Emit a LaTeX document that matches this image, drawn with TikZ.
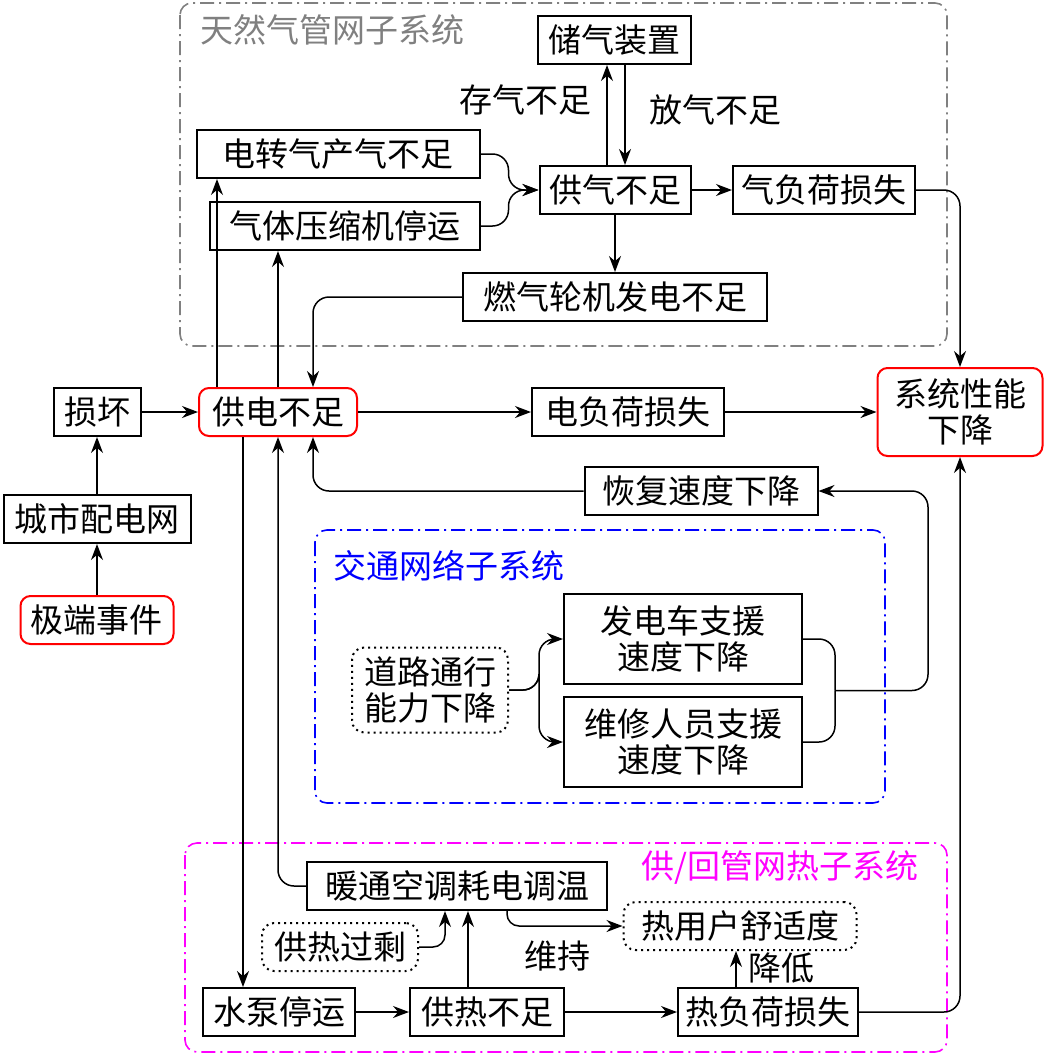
\documentclass[tikz,border=0pt]{standalone}
\usepackage{fontspec}
\newfontfamily\cjk{Noto Sans CJK SC}
\usepackage{tikz}
\usetikzlibrary{arrows.meta,calc}
\definecolor{heatmag}{RGB}{255,0,255}
\definecolor{trablue}{RGB}{0,0,255}
\definecolor{gasgray}{RGB}{128,128,128}

\begin{document}
\begin{tikzpicture}[
        x=0.5pt, y=-0.5pt,
        font=\cjk\fontsize{16.5}{18}\selectfont,
        box/.style={draw, line width=1pt, align=center, minimum height=24pt, inner sep=2pt},
        redbox/.style={box, draw=red, rounded corners=5pt},
        dotbox/.style={box, dotted, rounded corners=6pt},
        frame/.style={line width=0.8pt, rounded corners=6pt, dash pattern=on 7pt off 2.5pt on 1pt off 2.5pt},
        line/.style={-{Stealth[length=8pt,width=6pt]}, line width=0.75pt},
        link/.style={line width=0.75pt}
    ]
        \useasboundingbox (0,0) rectangle (1045,1056);

        % subsystem frames
        \draw[frame, gasgray] (180,3) rectangle (947,346);
        \draw[frame, trablue] (315,530) rectangle (885,803);
        \draw[frame, heatmag] (185,843) rectangle (947,1052);
        \node[gasgray, anchor=west] (gastitle) at (193,30) {天然气管网子系统};
        \node[trablue, anchor=west] (tratitle) at (326,566) {交通网络子系统};
        \node[heatmag, anchor=west] (heattitle) at (634,868) {供/回管网热子系统};

        % gas
        \node[box, minimum width=76.5pt] (store) at (614,40) {储气装置};
        \node[box, minimum width=141.5pt] (p2g) at (338,154) {电转气产气不足};
        \node[box, minimum width=135pt] (comp) at (345,226) {气体压缩机停运};
        \node[box, minimum width=75.5pt] (gs) at (615,190) {供气不足};
        \node[box, minimum width=91pt] (gl) at (824,190) {气负荷损失};
        \node[box, minimum width=152pt] (gt) at (615,297) {燃气轮机发电不足};

        % power
        \node[redbox, minimum width=79pt] (pse) at (278,412) {供电不足};
        \node[box, minimum width=43.5pt] (dmg) at (97,412) {损坏};
        \node[box, minimum width=93.5pt] (grid) at (97,519) {城市配电网};
        \node[redbox, minimum width=76.5pt] (ext) at (97,620) {极端事件};
        \node[box, minimum width=96pt] (el) at (628,412) {电负荷损失};
        \node[redbox, minimum width=82.5pt, minimum height=44pt] (sys) at (960,412) {系统性能\\下降};
        \node[box, minimum width=116.5pt] (recov) at (701,491) {恢复速度下降};

        % traffic
        \node[dotbox, minimum width=78pt, minimum height=42.5pt] (road) at (430,690) {道路通行\\能力下降};
        \node[box, minimum width=119pt, minimum height=45pt] (gen) at (683,639) {发电车支援\\速度下降};
        \node[box, minimum width=119pt, minimum height=45pt] (crew) at (683,742) {维修人员支援\\速度下降};

        % heat
        \node[box, minimum width=150pt] (hvac) at (457,886) {暖通空调耗电调温};
        \node[dotbox, minimum width=116.5pt] (comfort) at (740,926) {热用户舒适度};
        \node[dotbox, minimum width=78pt] (surplus) at (340,947) {供热过剩};
        \node[box, minimum width=76pt] (pump) at (279,1012) {水泵停运};
        \node[box, minimum width=77pt] (hs) at (487,1012) {供热不足};
        \node[box, minimum width=90pt] (hl) at (768,1012) {热负荷损失};

        % edge labels
        \node (lstore) at (525,100) {存气不足};
        \node (lrel) at (715,110) {放气不足};
        \node (lkeep) at (557,956) {维持};
        \node (llow) at (781,968) {降低};

        % helper points
        \coordinate (gj) at ($(gs.west)+(-30,0)$);
        \coordinate (up1) at ($(gs.north)+(-8,0)$);
        \coordinate (dn1) at ($(gs.north)+(10,0)$);
        \coordinate (pp2g) at ($(pse.north)+(-61,0)$);
        \coordinate (pgt) at ($(pse.north)+(35,0)$);
        \coordinate (prec) at ($(pse.south)+(35,0)$);
        \coordinate (ppump) at ($(pse.south)+(-35,0)$);
        \coordinate (rj) at ($(road.east)+(30,0)$);
        \coordinate (tj) at ($(gen.east)!0.5!(crew.east)+(32,0)$);
        \coordinate (hup) at ($(hs.north)+(-19,0)$);
        \coordinate (sup1) at ($(hvac.south)+(-12,0)$);
        \coordinate (hout) at ($(hvac.south)+(50,0)$);
        \coordinate (hlup) at ($(hl.north)+(-32,0)$);

        \draw[line, rounded corners=8pt] (p2g.east) -| (gj) -- (gs.west);
        \draw[line, rounded corners=8pt] (comp.east) -| (gj) -- (gs.west);
        \draw[line] (up1) -- (up1 |- store.south);
        \draw[line] (dn1 |- store.south) -- (dn1);
        \draw[line] (gs) -- (gl);
        \draw[line] (gs) -- (gt);
        \draw[line, rounded corners=8pt] (gl.east) -| (sys.north);
        \draw[line, rounded corners=8pt] (gt.west) -| (pgt);

        \draw[line] (ext) -- (grid);
        \draw[line] (grid) -- (dmg);
        \draw[line] (dmg) -- (pse);
        \draw[line] (pse) -- (el);
        \draw[line] (el) -- (sys);
        \draw[line] (pp2g) -- (pp2g |- p2g.south);
        \draw[line] (pse.north) -- (pse.north |- comp.south);
        \draw[line] (ppump) -- (ppump |- pump.north);
        \draw[line, rounded corners=8pt] (recov.west) -| (prec);

        \draw[line, rounded corners=8pt] (road.east) -| (rj) |- (gen.west);
        \draw[line, rounded corners=8pt] (road.east) -| (rj) |- (crew.west);
        \draw[link, rounded corners=8pt] (gen.east) -| (tj);
        \draw[link, rounded corners=8pt] (crew.east) -| (tj);
        \draw[line, rounded corners=8pt] (tj) -- ++(93,0) |- (recov.east);

        \draw[line, rounded corners=8pt] (hvac.west) -| (pse.south);
        \draw[line, rounded corners=6pt] (surplus.east) -| (sup1);
        \draw[line] (hup) -- (hup |- hvac.south);
        \draw[line, rounded corners=6pt] (hout) |- (comfort.west);
        \draw[line] (pump) -- (hs);
        \draw[line] (hs) -- (hl);
        \draw[line] (hlup) -- (hlup |- comfort.south);
        \draw[line, rounded corners=8pt] (hl.east) -| (sys.south);
    \end{tikzpicture}
\end{document}
